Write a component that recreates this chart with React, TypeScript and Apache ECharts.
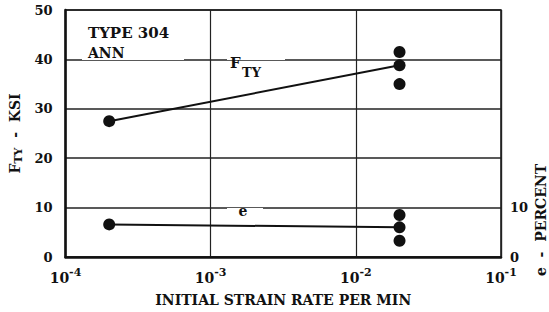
import { useEffect, useRef } from 'react';
import * as echarts from 'echarts';

const xMin = 1e-4;
const xMax = 1e-1;
const ftyLine = [[2e-4, 27.5], [2e-2, 38.8]];
const ftyExtra = [[2e-2, 41.5], [2e-2, 35]];
const eLine = [[2e-4, 6.6], [2e-2, 6.0]];
const eExtra = [[2e-2, 8.5], [2e-2, 3.3]];
const rightTickLabels = [0, 10];

const FONT = 'DejaVu Serif';
const INK = '#111';

export default function App() {
  const ref = useRef<HTMLDivElement>(null);
  useEffect(() => {
    if (!ref.current) return;
    const chart = echarts.init(ref.current, null, { renderer: 'svg' });
    const dot = { symbol: 'circle', symbolSize: 12, itemStyle: { color: INK, opacity: 1 } };
    chart.setOption({
      animation: false,
      backgroundColor: '#fff',
      textStyle: { fontFamily: FONT, color: INK },
      grid: {
        left: 65, right: 48, top: 10, bottom: 54,
        show: true, borderColor: INK, borderWidth: 1.5, backgroundColor: 'transparent',
      },
      xAxis: {
        type: 'log', logBase: 10, min: xMin, max: xMax,
        axisLine: { show: true, lineStyle: { color: INK, width: 2.5 } },
        axisTick: { show: false },
        minorTick: { show: false },
        splitLine: { show: true, lineStyle: { color: '#222', width: 1.2 } },
        axisLabel: {
          margin: 10,
          formatter: (v: number) => `{b|10}{s|${Math.round(Math.log10(v))}}`,
          rich: {
            b: { fontFamily: FONT, fontSize: 14, fontWeight: 'bold', color: INK },
            s: { fontFamily: FONT, fontSize: 11, fontWeight: 'bold', color: INK, padding: [0, 0, 10, 0] },
          },
        },
        name: 'INITIAL STRAIN RATE PER MIN',
        nameLocation: 'middle', nameGap: 36,
        nameTextStyle: { fontFamily: FONT, fontSize: 14, fontWeight: 'bold', color: INK },
      },
      yAxis: [
        {
          type: 'value', min: 0, max: 50, interval: 10,
          axisLine: { show: true, lineStyle: { color: INK, width: 2.5 } },
          axisTick: { show: false },
          splitLine: { show: true, lineStyle: { color: '#222', width: 1.5 } },
          axisLabel: { margin: 13, fontFamily: FONT, fontSize: 13, color: INK, fontWeight: 'bold' },
          name: '{f|F}{s|TY}{n|  -  KSI}',
          nameLocation: 'middle', nameGap: 42,
          nameTextStyle: {
            rich: {
              f: { fontFamily: FONT, fontSize: 14, fontWeight: 'bold', color: INK },
              s: { fontFamily: FONT, fontSize: 11, fontWeight: 'bold', color: INK, padding: [6, 0, 0, 0] },
              n: { fontFamily: FONT, fontSize: 14, fontWeight: 'bold', color: INK },
            },
          },
        },
        {
          type: 'value', min: 0, max: 50, interval: 10, position: 'right',
          axisLine: { show: false },
          axisTick: { show: false },
          splitLine: { show: false },
          axisLabel: {
            margin: 9, fontFamily: FONT, fontSize: 13, color: INK, fontWeight: 'bold',
            formatter: (v: number) => (rightTickLabels.includes(v) ? String(v) : ''),
          },
        },
      ],
      graphic: [
        { type: 'rect', z: 10, shape: { x: 82, y: 54, width: 102, height: 6 }, style: { fill: '#fff' } },
        { type: 'rect', z: 10, shape: { x: 227, y: 54, width: 58, height: 6 }, style: { fill: '#fff' } },
        { type: 'rect', z: 10, shape: { x: 227, y: 208, width: 36, height: 6 }, style: { fill: '#fff' } },
        { type: 'text', z: 11, x: 88, y: 33, style: { text: 'TYPE 304', font: `bold 15px "${FONT}"`, fill: INK, verticalAlign: 'middle' } },
        { type: 'text', z: 11, x: 88, y: 53, style: { text: 'ANN', font: `bold 14px "${FONT}"`, fill: INK, verticalAlign: 'middle' } },
        { type: 'text', z: 11, x: 230, y: 63, style: { text: 'F', font: `bold 15px "${FONT}"`, fill: INK, verticalAlign: 'middle' } },
        { type: 'text', z: 11, x: 242, y: 72, style: { text: 'TY', font: `bold 13px "${FONT}"`, fill: INK, verticalAlign: 'middle' } },
        { type: 'text', z: 11, x: 243, y: 211, style: { text: 'e', font: `bold 14px "${FONT}"`, fill: INK, align: 'center', verticalAlign: 'middle' } },
        { type: 'text', z: 11, x: 541, y: 220, rotation: Math.PI / 2, style: { text: 'e  -  PERCENT', font: `bold 14px "${FONT}"`, fill: INK, align: 'center', verticalAlign: 'middle' } },
      ],
      series: [
        { type: 'line', data: ftyLine, ...dot, lineStyle: { color: INK, width: 2 }, z: 5 },
        { type: 'scatter', data: ftyExtra, ...dot, z: 5 },
        { type: 'line', data: eLine, ...dot, lineStyle: { color: INK, width: 2 }, z: 5 },
        { type: 'scatter', data: eExtra, ...dot, z: 5 },
      ],
    });
    return () => chart.dispose();
  }, []);
  return <div ref={ref} style={{ width: 549, height: 312, position: 'absolute', left: 0, top: 0 }} />;
}
